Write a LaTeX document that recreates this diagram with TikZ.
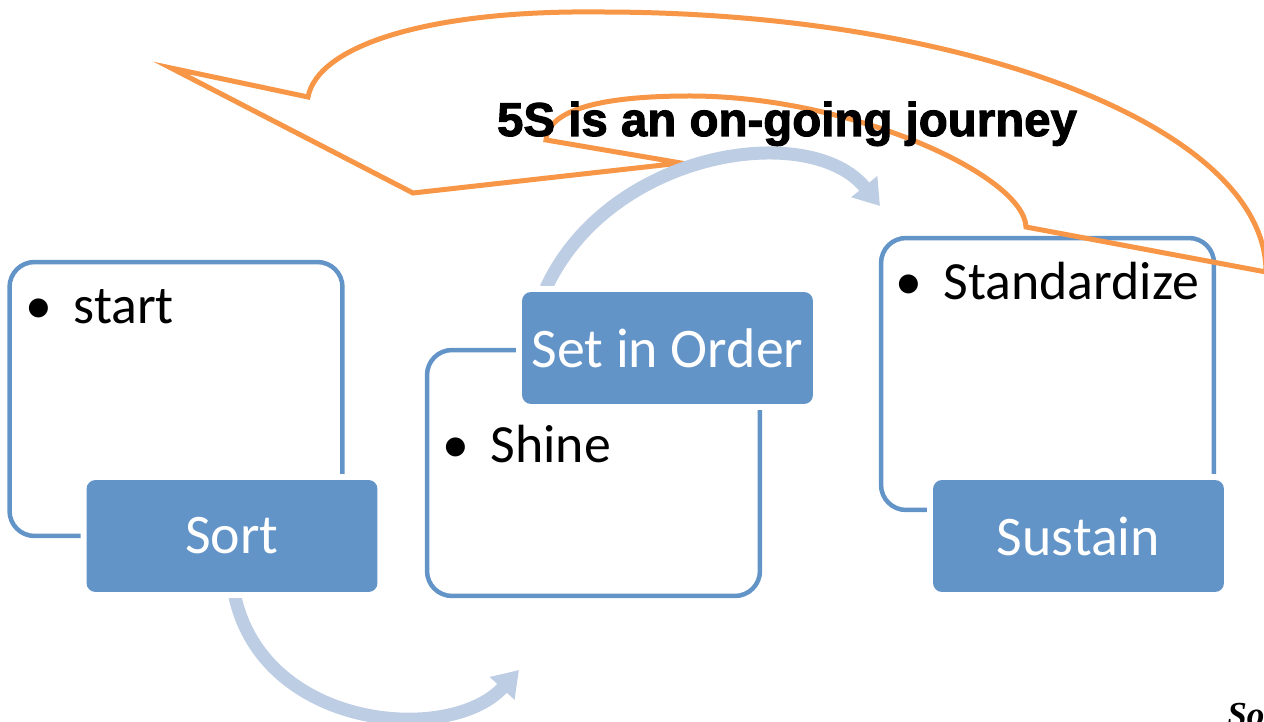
\documentclass[tikz,border=0pt]{standalone}
\usepackage{fontspec}
\setmainfont{Carlito}
\newfontfamily\headfont{Liberation Sans}[BoldFeatures={FakeBold=2.2}]
\newfontfamily\notefont{Liberation Serif}
\usetikzlibrary{arrows.meta}
\definecolor{cStep}{HTML}{6394C8}
\definecolor{cFlow}{HTML}{BDCDE3}
\definecolor{cCall}{HTML}{F79646}
\tikzset{
  panel/.style={draw=cStep, line width=0.09cm, rounded corners=0.5cm,
                minimum width=6.66cm, inner sep=0pt},
  stepbox/.style={fill=cStep, rounded corners=0.18cm, text=white, inner sep=0pt,
                  minimum width=5.82cm, minimum height=2.24cm,
                  font=\fontsize{31.8}{38}\selectfont,
                  preaction={draw=white, line width=0.24cm}},
  item/.style={anchor=base west, inner sep=0pt, font=\fontsize{30.6}{36}\selectfont},
  flow/.style={draw=cFlow, line width=0.26cm, -{Triangle[length=0.5cm, width=0.64cm]}},
  callout/.style={draw=cCall, line width=0.1cm, line join=miter},
  motto/.style={anchor=base, inner sep=0pt, font=\headfont\bfseries\fontsize{27}{32}\selectfont},
}

\begin{document}
\begin{tikzpicture}[x=0.02cm, y=-0.02cm]
  \useasboundingbox (0,0) rectangle (1264,722);
  % outlined panels behind the steps
  \node[panel, minimum height=5.48cm] (sortpanel)  at (176,399)    {};
  \node[panel, minimum height=4.92cm] (shinepanel) at (593.5,473)  {};
  \node[panel, minimum height=5.44cm] (stdpanel)   at (1047.5,374) {};
  % curved callout
  \draw[callout] (171,68) -- (308,97)
    .. controls (318,45) and (430,10) .. (600,12)
    .. controls (968,12) and (1266,128) .. (1266,272)
    -- (1026,227)
    .. controls (1024,175) and (850,96) .. (690,96)
    .. controls (600,96) and (548,110) .. (546,140)
    -- (681,163) -- (413,193) -- cycle;
  \node[motto] (title) at (787,136) {5S is an on-going journey};
  % arrows between the steps
  \coordinate (lowtip) at (519,670);
  \coordinate (hightip) at (880,206);
  \draw[flow] (235,597) .. controls (265,730) and (450,745) .. (lowtip);
  \draw[flow] (546,288) .. controls (610,150) and (810,120) .. (hightip);
  % the steps
  \node[stepbox] (sort)    at (232,536)    {Sort};
  \node[stepbox] (order)   at (667.5,348)  {Set in Order};
  \node[stepbox] (sustain) at (1078.5,536) {Sustain};
  \node[item] (start) at (25,324)  {\textbullet\hspace{0.4em}start};
  \node[item] (shine) at (442,463) {\textbullet\hspace{0.4em}Shine};
  \node[item] (std)   at (895,300) {\textbullet\hspace{0.4em}Standardize};
  \node[anchor=base west, inner sep=0pt,
        font=\notefont\bfseries\itshape\fontsize{20}{24}\selectfont] (src) at (1227,726) {So};
\end{tikzpicture}
\end{document}
